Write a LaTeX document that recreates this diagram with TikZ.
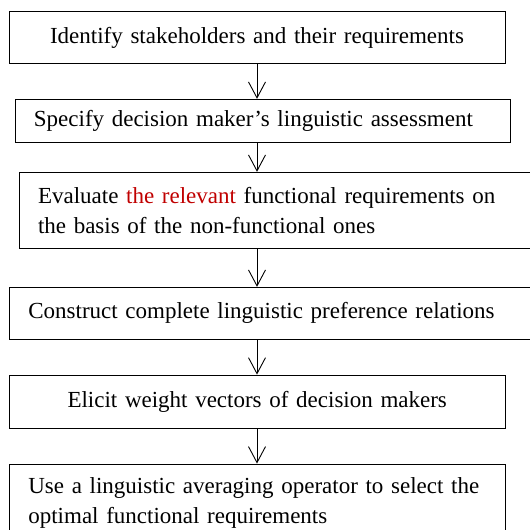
\documentclass[tikz,border=0pt]{standalone}
\usepackage{fontspec}
\setmainfont{Liberation Serif}
\usetikzlibrary{arrows.meta}
\definecolor{red1}{RGB}{192, 0, 0}

\begin{document}
\begin{tikzpicture}[x=1pt, y=-1pt, line width=0.9pt,
  stage/.style={draw, rectangle, inner ysep=0pt, font=\fontsize{23}{30}\selectfont},
  flow/.style={-{Straight Barb[length=16pt,width=17pt]}}]
  \useasboundingbox (0,0) rectangle (530,530);
  \clip (0,0) rectangle (530,530);
  \node[stage, minimum height=51.6pt, inner xsep=20pt, text width=456pt, align=center] (s1) at (257,37.5)
    {Identify stakeholders and their requirements};
  \node[stage, minimum height=43.4pt, inner xsep=18pt, text width=459pt, align=left] (s2) at (263.4,121)
    {Specify decision maker's linguistic assessment};
  \node[stage, minimum height=76pt, inner xsep=19pt, text width=488pt, align=left] (s3) at (282,210.3)
    {Evaluate \textcolor{red1}{the relevant} functional requirements on\\the basis of the non-functional ones};
  \node[stage, minimum height=52pt, inner xsep=19pt, text width=497.7pt, align=left] (s4) at (277.2,313.3)
    {Construct complete linguistic preference relations};
  \node[stage, minimum height=53.3pt, inner xsep=20pt, text width=455.7pt, align=center] (s5) at (257.2,401.7)
    {Elicit weight vectors of decision makers};
  \node[stage, minimum height=78pt, inner xsep=19pt, text width=457.7pt, align=left] (s6) at (257.2,503)
    {Use a linguistic averaging operator to select the\\optimal functional requirements};
  % arrows all sit on one vertical line
  \coordinate (spine) at (257,0);
  \foreach \from/\to in {s1/s2, s2/s3, s3/s4, s4/s5, s5/s6}
    \draw[flow] (\from.south -| spine) -- (\to.north -| spine);
\end{tikzpicture}
\end{document}
